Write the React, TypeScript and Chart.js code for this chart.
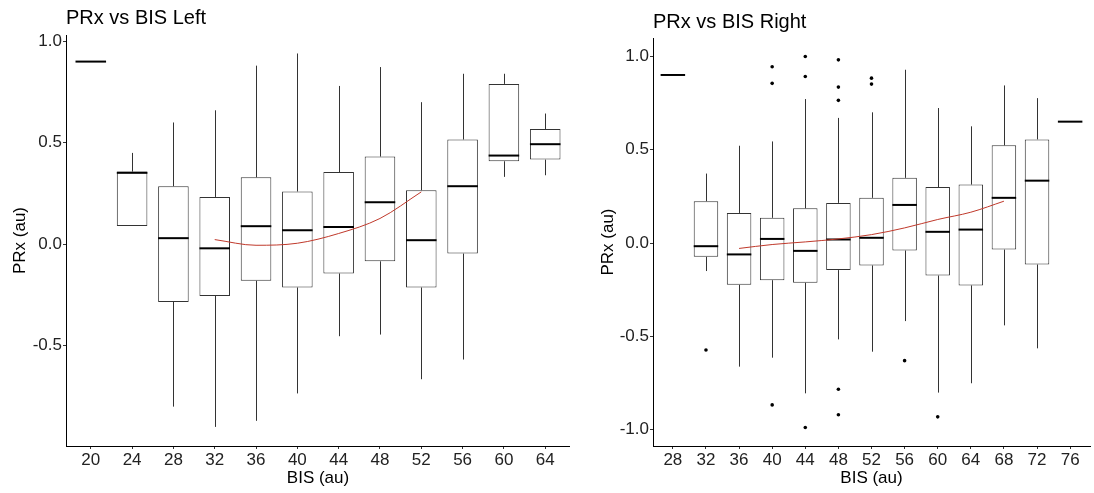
import React, { useEffect, useRef } from 'react';
import { Chart, registerables } from 'chart.js';

Chart.register(...registerables);

// ---------- Left panel data ----------
const bisLeft = [20, 24, 28, 32, 36, 40, 44, 48, 52, 56, 60, 64];
const minLeft = [0.9, 0.09, -0.8, -0.9, -0.87, -0.735, -0.453, -0.445, -0.665, -0.568, 0.332, 0.34];
const q1Left = [0.9, 0.09, -0.284, -0.255, -0.18, -0.213, -0.144, -0.084, -0.213, -0.046, 0.409, 0.417];
const medLeft = [0.9, 0.352, 0.03, -0.02, 0.089, 0.069, 0.085, 0.207, 0.02, 0.286, 0.437, 0.493];
const q3Left = [0.9, 0.358, 0.286, 0.233, 0.33, 0.26, 0.356, 0.432, 0.266, 0.516, 0.79, 0.568];
const maxLeft = [0.9, 0.45, 0.6, 0.66, 0.88, 0.94, 0.78, 0.873, 0.7, 0.84, 0.84, 0.644];
const outXLeft: number[] = [];
const outYLeft: number[] = [];
const smoothXLeft = [32, 36, 40, 44, 48, 52];
const smoothYLeft = [0.023, -0.005, 0.005, 0.053, 0.127, 0.258];
const yTicksLeft = [-0.5, 0, 0.5, 1.0];

// ---------- Right panel data ----------
const bisRight = [28, 32, 36, 40, 44, 48, 52, 56, 60, 64, 68, 72, 76];
const minRight = [0.9, -0.15, -0.662, -0.614, -0.805, -0.516, -0.582, -0.418, -0.801, -0.751, -0.441, -0.564, 0.65];
const q1Right = [0.9, -0.074, -0.224, -0.199, -0.213, -0.145, -0.12, -0.04, -0.174, -0.227, -0.035, -0.115, 0.65];
const medRight = [0.9, -0.017, -0.061, 0.022, -0.042, 0.019, 0.028, 0.204, 0.06, 0.072, 0.242, 0.334, 0.65];
const q3Right = [0.9, 0.224, 0.161, 0.135, 0.186, 0.215, 0.242, 0.349, 0.3, 0.313, 0.523, 0.555, 0.65];
const maxRight = [0.9, 0.372, 0.521, 0.544, 0.771, 0.67, 0.7, 0.928, 0.723, 0.625, 0.844, 0.776, 0.65];
const outXRight = [32, 40, 40, 40, 44, 44, 44, 48, 48, 48, 48, 48, 52, 52, 56, 60];
const outYRight = [-0.573, 0.944, 0.855, -0.867, 0.999, 0.892, -0.988, 0.981, 0.835, 0.764, -0.783, -0.92, 0.883, 0.851, -0.63, -0.931];
const smoothXRight = [36, 40, 44, 48, 52, 56, 60, 64, 68];
const smoothYRight = [-0.029, -0.008, 0.006, 0.022, 0.045, 0.081, 0.126, 0.165, 0.224];
const yTicksRight = [-1.0, -0.5, 0, 0.5, 1.0];

const FONT = "'Liberation Sans', Arial, Helvetica, sans-serif";

type PanelProps = {
  title: string;
  bis: number[];
  min: number[];
  q1: number[];
  med: number[];
  q3: number[];
  max: number[];
  outX: number[];
  outY: number[];
  smoothX: number[];
  smoothY: number[];
  yTicks: number[];
  yMin: number;
  yMax: number;
  left: number;
  width: number;
  yAxisWidth: number;
  yTitlePad: number;
  titlePadTop: number;
  titlePadBottom: number;
};

function BoxPanel(p: PanelProps) {
  const ref = useRef<HTMLCanvasElement | null>(null);

  useEffect(() => {
    if (!ref.current) return;
    const step = p.bis[1] - p.bis[0];
    const xMin = p.bis[0] - 0.6 * step;
    const xMax = p.bis[p.bis.length - 1] + 0.6 * step;

    const boxExtras = {
      id: 'boxExtras',
      afterDatasetDraw(chart: any, args: any) {
        if (args.index !== 0) return;
        const ctx = chart.ctx;
        const y = chart.scales.y;
        const meta = chart.getDatasetMeta(0);
        ctx.save();
        meta.data.forEach((bar: any, i: number) => {
          const { x, width } = bar.getProps(['x', 'width'], true);
          const xa = Math.round(x) + 0.5;
          ctx.strokeStyle = '#333333';
          ctx.lineWidth = 1;
          ctx.beginPath();
          if (p.max[i] > p.q3[i]) {
            ctx.moveTo(xa, y.getPixelForValue(p.q3[i]));
            ctx.lineTo(xa, y.getPixelForValue(p.max[i]));
          }
          if (p.min[i] < p.q1[i]) {
            ctx.moveTo(xa, y.getPixelForValue(p.q1[i]));
            ctx.lineTo(xa, y.getPixelForValue(p.min[i]));
          }
          ctx.stroke();
          const ym = y.getPixelForValue(p.med[i]);
          ctx.strokeStyle = '#000000';
          ctx.lineWidth = 2;
          ctx.beginPath();
          ctx.moveTo(x - width / 2, ym);
          ctx.lineTo(x + width / 2, ym);
          ctx.stroke();
        });
        ctx.restore();
      },
    };

    const chart = new Chart(ref.current, {
      type: 'bar',
      data: {
        datasets: [
          {
            type: 'bar',
            data: p.bis.map((b, i) => ({ x: b, y: [p.q1[i], p.q3[i]] })) as any,
            backgroundColor: '#ffffff',
            borderColor: '#333333',
            borderWidth: 1,
            borderSkipped: false,
            barPercentage: 0.74,
            categoryPercentage: 1,
            order: 3,
          } as any,
          {
            type: 'scatter',
            data: p.outX.map((x, i) => ({ x, y: p.outY[i] })),
            backgroundColor: '#000000',
            borderWidth: 0,
            pointRadius: 1.8,
            order: 2,
          } as any,
          {
            type: 'line',
            data: p.smoothX.map((x, i) => ({ x, y: p.smoothY[i] })),
            borderColor: '#c0392b',
            borderWidth: 1,
            pointRadius: 0,
            fill: false,
            cubicInterpolationMode: 'monotone',
            order: 1,
          } as any,
        ],
      },
      options: {
        responsive: false,
        animation: false,
        layout: { padding: 0 },
        plugins: {
          legend: { display: false },
          tooltip: { enabled: false },
          title: {
            display: true,
            text: p.title,
            align: 'start',
            fullSize: false,
            color: '#000000',
            font: { family: FONT, size: 20, weight: 'normal' },
            padding: { top: p.titlePadTop, bottom: p.titlePadBottom },
          },
        },
        scales: {
          x: {
            type: 'linear',
            min: xMin,
            max: xMax,
            offset: false,
            afterBuildTicks: (scale: any) => {
              scale.ticks = p.bis.map((v) => ({ value: v }));
            },
            afterFit: (scale: any) => {
              scale.height = 47;
            },
            ticks: {
              autoSkip: false,
              maxRotation: 0,
              padding: 1,
              color: '#222222',
              font: { family: FONT, size: 17 },
              callback: (v: any) => String(v),
            },
            grid: {
              display: true,
              drawOnChartArea: false,
              drawTicks: true,
              tickLength: 3,
              color: '#333333',
              offset: false,
            },
            border: { display: true, color: '#000000', width: 1 },
            title: {
              display: true,
              text: 'BIS (au)',
              color: '#000000',
              font: { family: FONT, size: 17 },
              padding: { top: 0, bottom: 4 },
            },
          } as any,
          y: {
            type: 'linear',
            min: p.yMin,
            max: p.yMax,
            afterBuildTicks: (scale: any) => {
              scale.ticks = p.yTicks.map((v) => ({ value: v }));
            },
            afterFit: (scale: any) => {
              scale.width = p.yAxisWidth;
            },
            ticks: {
              padding: 1,
              color: '#222222',
              font: { family: FONT, size: 17 },
              callback: (v: any) => Number(v).toFixed(1),
            },
            grid: {
              display: true,
              drawOnChartArea: false,
              drawTicks: true,
              tickLength: 3,
              color: '#333333',
            },
            border: { display: true, color: '#000000', width: 1 },
            title: {
              display: true,
              text: 'PRx (au)',
              color: '#000000',
              font: { family: FONT, size: 17 },
              padding: { top: p.yTitlePad, bottom: 0 },
            },
          } as any,
        },
      },
      plugins: [boxExtras as any],
    });
    return () => chart.destroy();
  }, []);

  return (
    <canvas
      ref={ref}
      width={p.width}
      height={493}
      style={{ position: 'absolute', left: p.left, top: 0, width: p.width, height: 493 }}
    />
  );
}

export default function App() {
  return (
    <div style={{ position: 'absolute', left: 0, top: 0, width: 1094, height: 493, background: '#ffffff', overflow: 'hidden' }}>
      <BoxPanel
        title="PRx vs BIS Left"
        bis={bisLeft}
        min={minLeft}
        q1={q1Left}
        med={medLeft}
        q3={q3Left}
        max={maxLeft}
        outX={outXLeft}
        outY={outYLeft}
        smoothX={smoothXLeft}
        smoothY={smoothYLeft}
        yTicks={yTicksLeft}
        yMin={-0.994}
        yMax={1.031}
        left={0}
        width={570}
        yAxisWidth={66}
        yTitlePad={10}
        titlePadTop={6}
        titlePadBottom={5}
      />
      <BoxPanel
        title="PRx vs BIS Right"
        bis={bisRight}
        min={minRight}
        q1={q1Right}
        med={medRight}
        q3={q3Right}
        max={maxRight}
        outX={outXRight}
        outY={outYRight}
        smoothX={smoothXRight}
        smoothY={smoothYRight}
        yTicks={yTicksRight}
        yMin={-1.087}
        yMax={1.098}
        left={580}
        width={514}
        yAxisWidth={73}
        yTitlePad={18}
        titlePadTop={10}
        titlePadBottom={4}
      />
    </div>
  );
}
